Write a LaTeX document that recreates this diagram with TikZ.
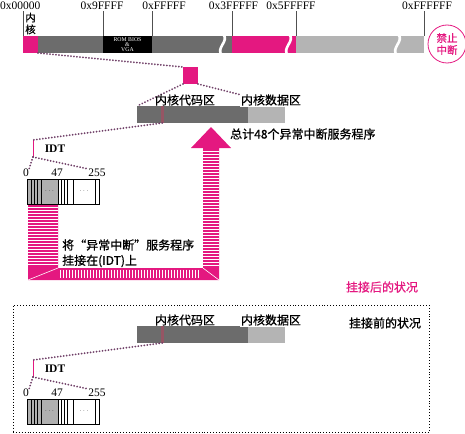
\documentclass[tikz,border=0pt]{standalone}
\usepackage{fontspec}
\setmainfont{Liberation Serif}
\newfontfamily\cjk[FakeBold=0.8]{Noto Sans CJK SC}
\definecolor{pk}{RGB}{228,24,128}
\definecolor{dg}{RGB}{108,108,108}
\definecolor{lg}{RGB}{180,180,180}
\definecolor{tg}{RGB}{176,176,176}
\definecolor{dotc}{RGB}{112,64,104}
\definecolor{mkc}{RGB}{150,85,100}
\definecolor{tkc}{RGB}{80,80,80}
\newcommand\kgrp[2]{%
\begin{scope}[shift={(0,#2)}]
  \node[box, fill=dg, minimum width=111pt, minimum height=17pt] (kc#1) at (137,106) {};
  \node[box, fill=lg, minimum width=37pt, minimum height=17pt] (kd#1) at (248,106) {};
  \fill[mkc] (161,106) rectangle (163.5,123);
  \coordinate (km#1) at (162.2,123);
  \node[cj] (lc#1) at (185,100) {内核代码区};
  \node[cj, fill=white, inner sep=1pt] (ld#1) at (271,100) {内核数据区};
  \coordinate (bt#1) at (33,140);
  \coordinate (bb#1) at (33,157);
  \draw[pk, line width=0.8pt] (bt#1) -- (bb#1);
  \node[idt] (idt#1) at (55,149) {IDT};
  \node[num] (na#1) at (26,173) {0};
  \node[num] (nb#1) at (57,173) {47};
  \node[num] (nc#1) at (97,173) {255};
  \draw[dots] (km#1) -- (bt#1);
  \draw[dots] (bb#1) -- (na#1.north east);
  \draw[dots] (bb#1) -- (nc#1.north west);
  \fill[tg] (27,179) rectangle (58,204);
  \foreach \xx in {31.7,34.3,37.7,41,61,64,67.3,73.3,95}
    \draw[line width=0.5pt] (\xx,179) -- (\xx,204);
  \draw[line width=0.8pt] (58,179) -- (58,204);
  \node[box, draw=black, line width=0.7pt, minimum width=72pt, minimum height=25pt] (tb#1) at (27,179) {};
  \node[inner sep=0pt, font=\fontsize{6}{6}\selectfont] (da#1) at (49.5,191) {$\cdots$};
  \node[inner sep=0pt, font=\fontsize{6}{6}\selectfont] (db#1) at (84,191) {$\cdots$};
\end{scope}}
\begin{document}
\begin{tikzpicture}[x=1pt,y=-1pt,
  box/.style={inner sep=0pt, outer sep=0pt, anchor=north west},
  lbl/.style={inner sep=0pt, font=\fontsize{11.5}{11.5}\selectfont},
  cj/.style={inner sep=0pt, font=\cjk\fontsize{12}{13}\selectfont},
  idt/.style={inner sep=0pt, font=\bfseries\fontsize{11.5}{11.5}\selectfont},
  num/.style={inner sep=0pt, font=\fontsize{11.5}{11.5}\selectfont},
  dots/.style={draw=dotc, line width=2pt, dash pattern=on 0.01pt off 3pt, line cap=round},
  tk/.style={draw=tkc, line width=0.5pt},
  wv/.style={draw=white, line width=2.6pt},
  stp/.style={draw=white, line width=0.65pt},
]
\useasboundingbox (0,0) rectangle (465,433);
% top memory bar
\node[box, fill=dg, minimum width=194pt, minimum height=17pt] (bdg) at (38,36) {};
\node[box, fill=pk, minimum width=15.3pt, minimum height=17pt] (mk) at (22.7,36) {};
\node[box, fill=black, minimum width=49pt, minimum height=17pt] (rom) at (103,36) {};
\node[text=white, inner sep=0pt, align=center, font=\fontsize{5.8}{5.2}\selectfont] (romt) at (127.5,44.8) {ROM BIOS\\\&\\VGA};
\node[box, fill=pk, minimum width=64pt, minimum height=17pt] (bpk) at (232,36) {};
\node[box, fill=lg, minimum width=128pt, minimum height=17pt] (blg) at (296,36) {};
\foreach \xx in {222,288,397}
  \draw[wv] (\xx+1,34) .. controls (\xx+8,41) and (\xx-7,48) .. (\xx,55.5);
% labels and ticks
\node[lbl, anchor=west] (h0) at (0,5.5) {0x00000};
\node[lbl] (h1) at (102,5.5) {0x9FFFF};
\node[lbl] (h2) at (164,5.5) {0xFFFFF};
\node[lbl] (h3) at (233.5,5.5) {0x3FFFFF};
\node[lbl] (h4) at (291,5.5) {0x5FFFFF};
\node[lbl] (h5) at (427,5.5) {0xFFFFFF};
\foreach \xx/\nn in {23/a,103/b,152/c,232/d,296/e,424/f}{
  \coordinate (tt\nn) at (\xx,11.5);
  \coordinate (tu\nn) at (\xx,36);
  \draw[tk] (tt\nn) -- (tu\nn);}
\node[cj, align=center, font=\cjk\fontsize{10.5}{11.8}\selectfont] (nh) at (30.5,23.5) {内\\核};
\node[circle, draw=pk, line width=0.8pt, minimum size=38pt, inner sep=0pt, text=pk, align=center, font=\cjk\fontsize{10.5}{12}\selectfont] (jz) at (447,44) {禁止\\中断};
% pink square and kernel group (after)
\node[box, fill=pk, minimum width=15pt, minimum height=17pt] (sq) at (183,67) {};
\draw[dots] (mk.south east) -- (sq.north west);
\draw[dots] (sq.south west) -- (137,106) coordinate (kcl);
\draw[dots] (sq.south east) -- (285,106) coordinate (kdr);
\kgrp{a}{0}
\node[cj, anchor=west] (tot) at (230,134) {总计48个异常中断服务程序};
% big hooking arrow
\fill[pk] (28,205) -- (58,205) -- (58,268) -- (203,268) -- (203,148) -- (191,148) -- (211,127)
  -- (231,148) -- (219,148) -- (219,280) -- (28,280) -- cycle;
\foreach \yy in {207.5,210.5,...,266}
  \draw[stp] (28,\yy) -- (58,\yy);
\foreach \yy in {151,154,...,266}
  \draw[stp] (203,\yy) -- (219,\yy);
\foreach \xx in {60.5,63.5,...,201}
  \draw[stp] (\xx,269.5) -- (\xx,277.5);
\draw[white, line width=0.6pt] (28,280) -- (58,268);
\draw[white, line width=0.6pt] (203,268) -- (219,280);
\node[cj, anchor=west] (hk1) at (62,245) {将“异常中断”服务程序};
\node[cj, anchor=west] (hk2) at (62,261) {挂接在(IDT)上};
\node[cj, text=pk] (after) at (382,287) {挂接后的状况};
% before state
\node[box, draw=black, line width=0.9pt, dash pattern=on 0.9pt off 2pt, minimum width=416pt, minimum height=127pt] (fr) at (13,305) {};
\node[cj] (before) at (385,323) {挂接前的状况};
\kgrp{b}{220}
\end{tikzpicture}
\end{document}
